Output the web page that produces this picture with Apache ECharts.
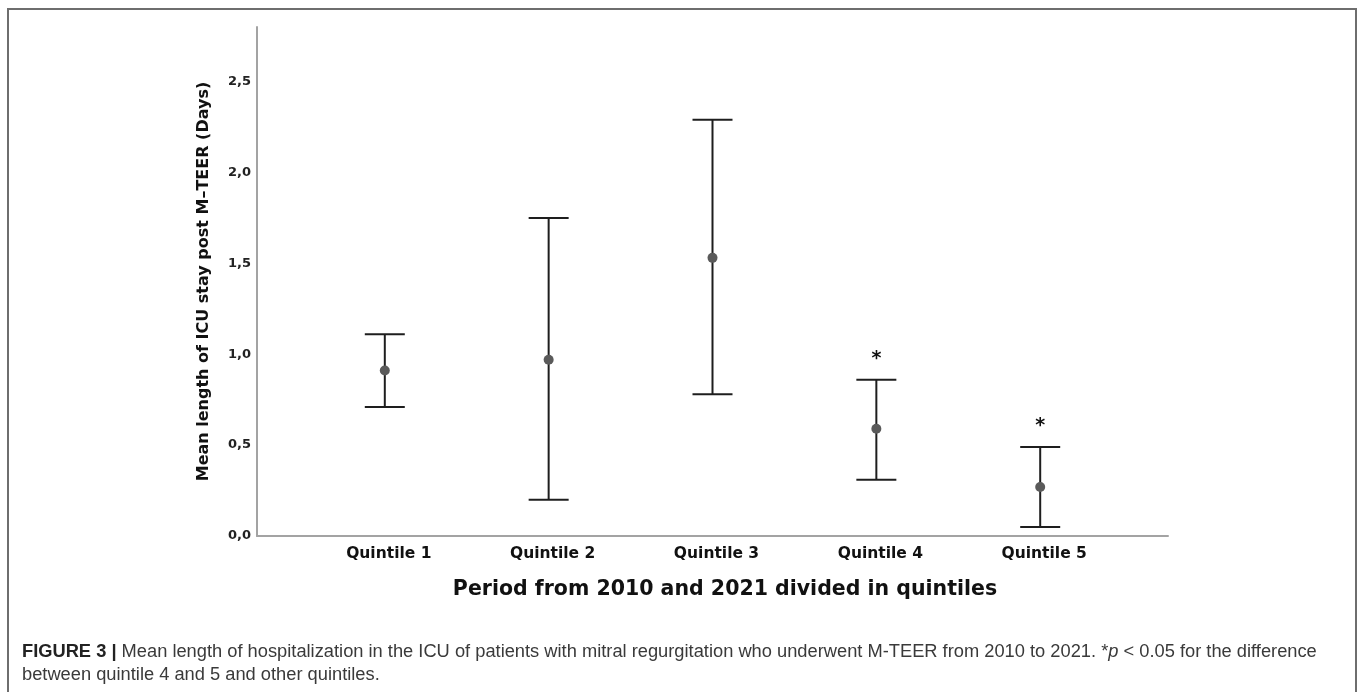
<!DOCTYPE html>
<html>
<head>
<meta charset="utf-8">
<script src="https://cdn.jsdelivr.net/npm/echarts@6/dist/echarts.min.js"></script>
<style>
html,body{margin:0;padding:0;background:#fff;}
#chart{width:1358px;height:692px;}
</style>
</head>
<body>
<div id="chart"></div>
<script>
// ---- data ----
var categories = ['Quintile 1', 'Quintile 2', 'Quintile 3', 'Quintile 4', 'Quintile 5'];
var positions = [1, 2, 3, 4, 5];
var meanValues = [0.91, 0.97, 1.53, 0.59, 0.27];
var lowerValues = [0.71, 0.20, 0.78, 0.31, 0.05];
var upperValues = [1.11, 1.75, 2.29, 0.86, 0.49];
var significant = [false, false, false, true, true];
var yTickValues = [0, 0.5, 1.0, 1.5, 2.0, 2.5];

var chart = echarts.init(document.getElementById('chart'), null, {renderer: 'canvas'});

var barData = positions.map(function (p, i) {
  return [p, lowerValues[i], upperValues[i], significant[i] ? 1 : 0];
});
var meanData = positions.map(function (p, i) { return [p, meanValues[i]]; });

var option = {
  backgroundColor: '#ffffff',
  animation: false,
  grid: {left: 257, right: 190, top: 27, bottom: 156},
  xAxis: {
    type: 'value',
    min: 0.22,
    max: 5.78,
    splitLine: {show: false},
    axisTick: {show: false},
    axisLine: {show: true, lineStyle: {color: '#a3a3a3', width: 2}},
    axisLabel: {
      customValues: positions,
      formatter: function (v) { return categories[Math.round(v) - 1] || ''; },
      fontFamily: 'DejaVu Sans', fontWeight: 'bold', fontSize: 15.5, color: '#111',
      margin: 10, padding: [0, 0, 0, 8]
    },
    name: 'Period from 2010 and 2021 divided in quintiles',
    nameLocation: 'middle',
    nameGap: 43,
    nameTextStyle: {fontFamily: 'DejaVu Sans', fontWeight: 'bold', fontSize: 20.5, color: '#111', padding: [0, 0, 0, 25]}
  },
  yAxis: {
    type: 'value',
    min: 0,
    max: 2.8,
    splitLine: {show: false},
    axisTick: {show: false},
    axisLine: {show: true, lineStyle: {color: '#a3a3a3', width: 2}},
    axisLabel: {
      customValues: yTickValues,
      formatter: function (v) { return v.toFixed(1).replace('.', ','); },
      fontFamily: 'DejaVu Sans', fontWeight: 'bold', fontSize: 13, color: '#222',
      margin: 6
    },
    name: 'Mean length of ICU stay post M\u2013TEER (Days)',
    nameLocation: 'middle',
    nameGap: 45,
    nameTextStyle: {fontFamily: 'DejaVu Sans', fontWeight: 'bold', fontSize: 16, color: '#111'}
  },
  series: [
    {
      type: 'custom',
      data: barData,
      renderItem: function (params, api) {
        var x = api.value(0);
        var lo = api.coord([x, api.value(1)]);
        var hi = api.coord([x, api.value(2)]);
        var half = 20;
        var style = {stroke: '#1e1e1e', lineWidth: 2};
        var children = [
          {type: 'line', shape: {x1: lo[0], y1: lo[1], x2: hi[0], y2: hi[1]}, style: style},
          {type: 'line', shape: {x1: lo[0] - half, y1: lo[1], x2: lo[0] + half, y2: lo[1]}, style: style},
          {type: 'line', shape: {x1: hi[0] - half, y1: hi[1], x2: hi[0] + half, y2: hi[1]}, style: style}
        ];
        if (api.value(3) === 1) {
          children.push({
            type: 'text',
            style: {text: '*', x: hi[0], y: hi[1] - 21, align: 'center', verticalAlign: 'middle',
              fontFamily: 'DejaVu Sans', fontWeight: 'bold', fontSize: 19, fill: '#111'}
          });
        }
        return {type: 'group', children: children};
      },
      z: 2
    },
    {
      type: 'scatter',
      data: meanData,
      symbol: 'circle',
      symbolSize: 10,
      itemStyle: {color: '#5a5a5a', opacity: 1},
      z: 3
    }
  ],
  graphic: [
    {
      type: 'rect',
      shape: {x: 8, y: 9, width: 1348, height: 720},
      style: {fill: 'none', stroke: '#6e6e6e', lineWidth: 2},
      silent: true
    },
    {
      type: 'text',
      left: 22,
      top: 640,
      style: {
        text: '{b|FIGURE 3 |} Mean length of hospitalization in the ICU of patients with mitral regurgitation who underwent M-TEER from 2010 to 2021. *{i|p} < 0.05 for the difference\nbetween quintile 4 and 5 and other quintiles.',
        fontFamily: 'Liberation Sans',
        fontSize: 18.3,
        lineHeight: 23,
        fill: '#3a3a3a',
        rich: {
          b: {fontFamily: 'Liberation Sans', fontWeight: 'bold', fontSize: 18.3, fill: '#222', lineHeight: 23},
          i: {fontFamily: 'Liberation Sans', fontStyle: 'italic', fontSize: 18.3, fill: '#3a3a3a', lineHeight: 23}
        }
      },
      silent: true
    }
  ]
};

chart.setOption(option);
</script>
</body>
</html>
